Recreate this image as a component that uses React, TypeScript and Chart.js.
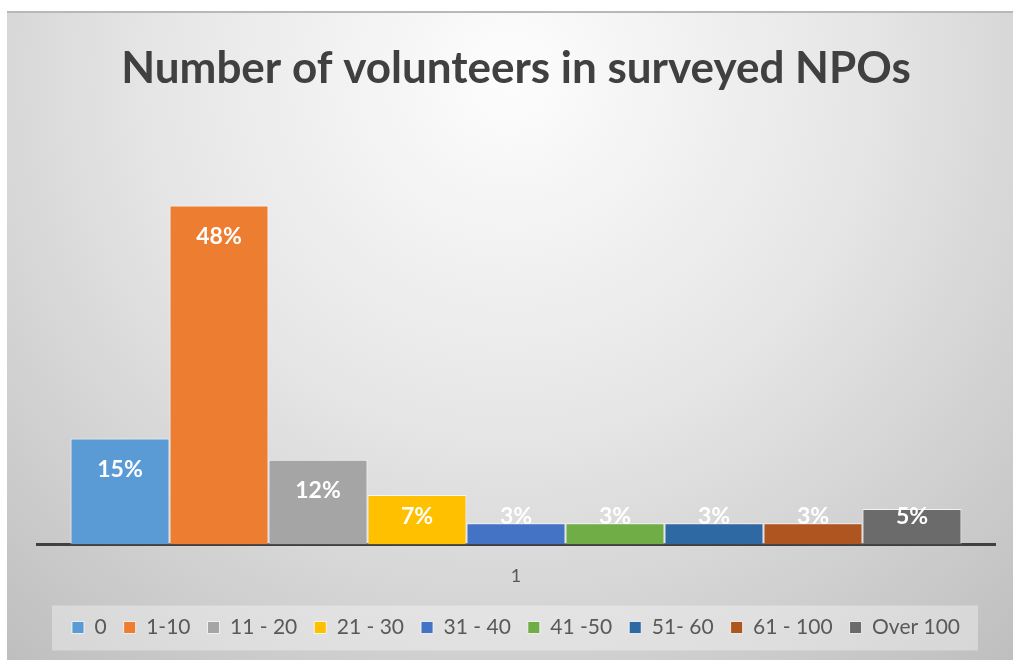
import React, { useEffect, useRef } from "react";
import { Chart, registerables } from "chart.js";

Chart.register(...registerables);

const categories = ["1"];
const seriesNames = ["0", "1-10", "11 - 20", "21 - 30", "31 - 40", "41 -50", "51- 60", "61 - 100", "Over 100"];
const seriesValues = [0.15, 0.48, 0.12, 0.07, 0.03, 0.03, 0.03, 0.03, 0.05];
const seriesColors = ["#5B9BD5", "#ED7D31", "#A5A5A5", "#FFC000", "#4472C4", "#70AD47", "#2F69A3", "#AF5520", "#6B6B6B"];
const titleText = "Number of volunteers in surveyed NPOs";
const FONT = "Lato, 'Open Sans', sans-serif";

const bgPlugin = {
  id: "bgPlugin",
  beforeDraw(chart: any) {
    const { ctx, width, height } = chart;
    ctx.save();
    const g = ctx.createRadialGradient(width * 0.5, height * 0.1, 0, width * 0.5, height * 0.1, width * 0.78);
    g.addColorStop(0, "#fdfdfd");
    g.addColorStop(0.45, "#e6e6e6");
    g.addColorStop(1, "#bdbdbd");
    ctx.fillStyle = g;
    ctx.fillRect(0, 0, width, height);
    ctx.fillStyle = "#b8b8b8";
    ctx.fillRect(0, 0, width, 2);
    const lg = chart.legend;
    if (lg && lg.legendHitBoxes && lg.legendHitBoxes.length) {
      const hb = lg.legendHitBoxes;
      const x0 = hb[0].left - 20;
      const x1 = hb[hb.length - 1].left + hb[hb.length - 1].width + 18;
      const cy = hb[0].top + hb[0].height / 2;
      ctx.fillStyle = "rgba(255,255,255,0.35)";
      ctx.fillRect(x0, cy - 22, x1 - x0, 45);
    }
    ctx.restore();
  },
};

const labelPlugin = {
  id: "labelPlugin",
  afterDatasetsDraw(chart: any) {
    const { ctx } = chart;
    ctx.save();
    ctx.font = `bold 23px ${FONT}`;
    ctx.fillStyle = "#ffffff";
    ctx.textAlign = "center";
    ctx.textBaseline = "middle";
    chart.data.datasets.forEach((ds: any, i: number) => {
      const meta = chart.getDatasetMeta(i);
      meta.data.forEach((el: any, j: number) => {
        const v = ds.data[j];
        const y = Math.min(el.y + 31, el.base - 28);
        ctx.fillText(Math.round(v * 100) + "%", el.x, y);
      });
    });
    ctx.restore();
  },
};

export default function App() {
  const ref = useRef<HTMLCanvasElement>(null);
  useEffect(() => {
    if (!ref.current) return;
    const chart = new Chart(ref.current, {
      type: "bar",
      data: {
        labels: categories,
        datasets: seriesNames.map((name, i) => ({
          label: name,
          data: [seriesValues[i]],
          backgroundColor: seriesColors[i],
          borderColor: "rgba(255,255,255,0.75)",
          borderWidth: 1,
          borderSkipped: "bottom",
          barPercentage: 1,
          categoryPercentage: 0.93,
        })),
      },
      options: {
        animation: false,
        responsive: false,
        maintainAspectRatio: false,
        layout: { padding: { left: 30, right: 18, top: 0, bottom: 12 } },
        plugins: {
          title: {
            display: true,
            text: titleText,
            color: "#404040",
            font: { family: FONT, size: 44, weight: "bold" },
            padding: { top: 31, bottom: 26 },
          },
          legend: {
            position: "bottom",
            labels: {
              boxWidth: 12,
              boxHeight: 12,
              padding: 17,
              color: "#595959",
              font: { family: FONT, size: 21 },
            },
          },
          tooltip: { enabled: false },
        },
        scales: {
          x: {
            grid: { display: false },
            border: { display: true, color: "#404040", width: 3 },
            ticks: { color: "#595959", font: { family: FONT, size: 18 }, padding: 13 },
          },
          y: {
            display: false,
            min: 0,
            max: 0.6,
          },
        },
      },
      plugins: [bgPlugin, labelPlugin],
    });
    return () => chart.destroy();
  }, []);
  return (
    <div style={{ position: "fixed", left: 7, top: 11, width: 1006, height: 649, background: "#fff" }}>
      <canvas ref={ref} width={1006} height={649} style={{ display: "block", width: 1006, height: 649 }} />
    </div>
  );
}
